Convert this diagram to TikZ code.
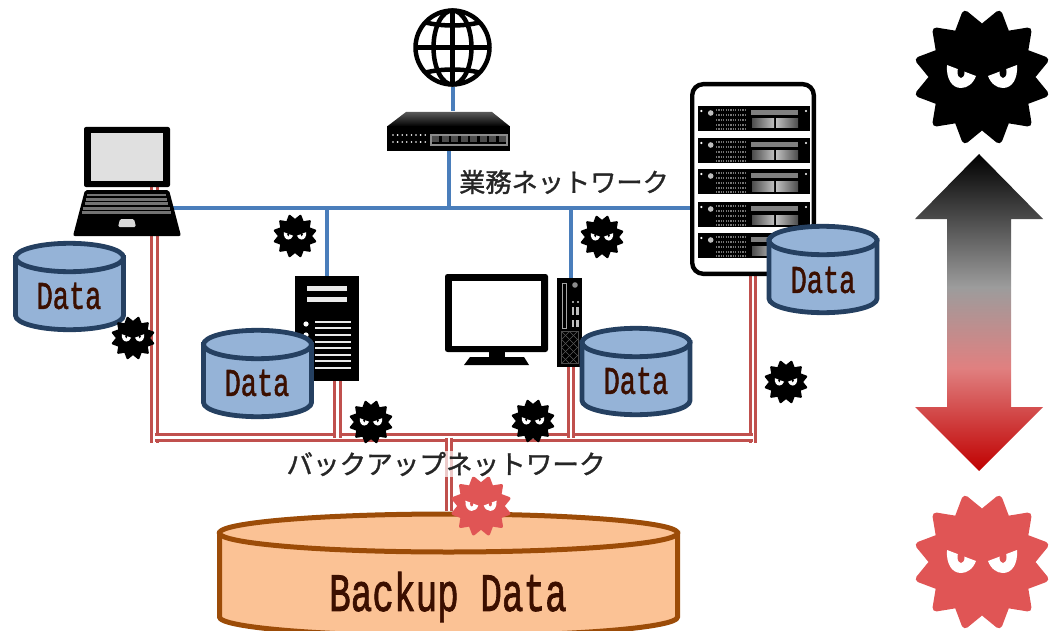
\documentclass[tikz,border=0pt]{standalone}
\usepackage{fontspec}
\usepackage{xcolor}
\usetikzlibrary{positioning, calc, arrows.meta}
\newfontfamily\jpfont[FakeBold=1.2]{Noto Sans CJK JP}
\newfontfamily\datafont[FakeBold=1.6]{Liberation Mono}
\definecolor{lanblue}{HTML}{4A7EBB}
\definecolor{bkred}{HTML}{C0504D}
\definecolor{cylblue}{HTML}{95B3D7}
\definecolor{cyledge}{HTML}{254061}
\definecolor{bkfill}{HTML}{FBC295}
\definecolor{bkedge}{HTML}{9C4C08}
\definecolor{datatext}{HTML}{3B0F00}
\definecolor{virusred}{HTML}{E05555}
\definecolor{bottomred}{HTML}{C00000}
\definecolor{midpink}{HTML}{E08080}
\definecolor{midgray}{HTML}{9C9C9C}
\pgfdeclareverticalshading{threatfade}{100bp}{
  color(0bp)=(bottomred);
  color(25bp)=(bottomred);
  color(41.25bp)=(midpink);
  color(54bp)=(midgray);
  color(75bp)=(black);
  color(100bp)=(black)}

\begin{document}
\begin{tikzpicture}
    [x=1pt,y=-1pt,
     lan/.style={draw=lanblue,line width=4pt},
     backup/.style={draw=bkred,line width=2.9pt,double=white,double distance=2.9pt},
     devbox/.style={inner sep=0,minimum width=#1},
     blue drum/.style={draw=cyledge,fill=cylblue,line width=4.8pt},
     orange drum/.style={draw=bkedge,fill=bkfill,line width=5pt},
     datalabel/.style={inner sep=0,text=datatext,font=\datafont\fontsize{27}{27}\selectfont},
     netlabel/.style={inner sep=1pt,text=black!85,font=\jpfont\fontsize{26.2}{26}\selectfont},
     pics/drum/.style n args={4}{code={
       \draw[#4] (-#1,0) -- (-#1,#3) arc (180:0:#1 and #2) -- (#1,0) -- cycle;
       \draw[#4] (0,0) ellipse (#1 and #2);}},
     pics/virus/.style n args={2}{code={
       \begin{scope}[scale=#2]
       \filldraw[#1,line join=round,line width=#2*7pt] (0:49) \foreach \a in {0,30,...,330}{ -- (\a+15:65) -- (\a+30:49)} -- cycle;
       \fill[white] (-35,-12) -- (-6,-1) .. controls (-9,7) and (-15,11) .. (-21,11) .. controls (-30,11) and (-36,2) .. (-35,-12) -- cycle;
       \fill[white] (35,-12) -- (6,-1) .. controls (9,7) and (15,11) .. (21,11) .. controls (30,11) and (36,2) .. (35,-12) -- cycle;
       \fill[#1] (-21,-5) ellipse (3.5 and 6);
       \fill[#1] (21,-5) ellipse (3.5 and 6);
       \end{scope}}},
     pics/rackunit/.style={code={
       \fill[black] (0,0) rectangle (112,25);
       \fill[white] (3.3,5) circle (1.2);
       \fill[white] (108,5) circle (1.2);
       \fill[black!25] (12.7,7) circle (2.8);
       \foreach \r in {4,9,14,19,23}
         \draw[black!55,line width=1.2pt,dash pattern=on 1.2pt off 1.2pt] (18,\r) -- (48,\r);
       \fill[black!50] (53,4) rectangle (100,9);
       \shade[left color=black!70,right color=black!25] (54,13) rectangle (76,22);
       \shade[left color=black!25,right color=black!70] (78,13) rectangle (100,22);}}]
    \useasboundingbox (0,0) rectangle (1051,631);

    % icon boxes
    \node (laptop) at (127,181.5) [devbox=108,minimum height=109] {};
    \node (globe) at (452.5,47.5) [devbox=78,minimum height=78] {};
    \node (switch) at (448.5,131) [devbox=123,minimum height=39] {};
    \node (tower) at (327,328.5) [devbox=64,minimum height=105] {};
    \node (desktop) at (569.5,322.5) [devbox=25,minimum height=89] {};
    \node (monitor) at (496.5,319.5) [devbox=103,minimum height=91] {};
    \node (rack) at (753,179) [devbox=126,minimum height=194] {};
    \node (backupdisk) at (448.5,571) [devbox=463,minimum height=119] {};
    \coordinate (busL) at (170,208);
    \coordinate (busT) at (switch.south |- busL);
    \coordinate (busA) at (327,208);
    \coordinate (busB) at (571,208);
    \coordinate (bkL) at (154.3,437.5);
    \coordinate (bkR) at (753,437.5);
    \coordinate (bkT) at (449,437.5);
    \coordinate (bkA) at (337.5,437.5);
    \coordinate (bkB) at (571,437.5);
    \coordinate (lapTop) at (154.3,187);

    \draw[lan] (busL) -- (rack.west |- busL);
    \draw[lan] (globe.south) -- (globe.south |- switch.north);
    \draw[lan] (switch.south) -- (busT);
    \draw[lan] (busA) -- (busA |- tower.north);
    \draw[lan] (busB) -- (busB |- desktop.north);

    \draw[backup] (lapTop) -- ([yshift=-5pt]bkL);
    \draw[backup] (rack.south -| bkR) -- ([yshift=-5pt]bkR);
    \draw[backup] ([xshift=1pt]bkL) -- (bkR);
    \draw[backup] (tower.south -| bkA) -- (bkA);
    \draw[backup] (desktop.south -| bkB) -- (bkB);
    \draw[backup] (bkT) -- (backupdisk.north -| bkT);

    % laptop
    \fill[black,rounded corners=2pt] (84,127) rectangle (170,187);
    \fill[black!12] (91,133) rectangle (163,181);
    \fill[black,rounded corners=2pt] (85,190) -- (169,190) -- (181,236) -- (73,236) -- cycle;
    \foreach \yy/\xa/\xb in {195/87/166,199.7/86/167,203.7/85/168,208.3/83/170,212.7/82/171}
      \draw[black!55,line width=2.6pt] (\xa,\yy) -- (\xb,\yy);
    \fill[black!15,rounded corners=1.5pt] (120,219) -- (134,219) -- (136,227) -- (118,227) -- cycle;

    % globe
    \begin{scope}[shift={(globe.center)}]
      \draw[line width=4.5pt] (0,0) circle (37);
      \draw[line width=4.5pt] (0,0) ellipse (19 and 37);
      \draw[line width=4.5pt] (0,-37) -- (0,37);
      \draw[line width=4.5pt] (-37,0) -- (37,0);
      \draw[line width=4.5pt] (-27,-25) .. controls (-10,-21) and (10,-21) .. (27,-25);
      \draw[line width=4.5pt] (-27,25) .. controls (-10,21) and (10,21) .. (27,25);
    \end{scope}

    % switch
    \shade[top color=black!65,bottom color=black] (406,112) -- (492,112) -- (510,126.5) -- (387,126.5) -- cycle;
    \fill[black] (387,126.5) rectangle (510,151);
    \foreach \xx in {0,1,...,7} {
      \fill[white] (393+4.6*\xx,135) circle (.9);
      \fill[white] (393+4.6*\xx,142) circle (.9);
      \fill[black!70] (431+9.5*\xx+1.2,136.5) rectangle (431+9.5*\xx+8.2,142.5);
    }
    \draw[black!45,line width=1.5pt] (431,135) rectangle (507,145);

    % tower
    \fill[black] (295,276) rectangle (359,381);
    \fill[black!8] (307,286) rectangle (347,291);
    \fill[black!8] (307,297) rectangle (347,301.5);
    \fill[white] (306,324) circle (2.6);
    \fill[white] (306,335) circle (2.6);
    \foreach \yy in {321.5,328,334.7,341.5,348,354.7,361,368}
      \draw[black!8,line width=2pt] (315,\yy) -- (351,\yy);

    % monitor
    \fill[black,rounded corners=2.5pt] (445,274) rectangle (548,352);
    \fill[white] (452,281) rectangle (541,346);
    \fill[black] (489,350) rectangle (505,358);
    \fill[black] (470,357) -- (524,357) -- (529,365) -- (464,365) -- cycle;

    % desktop
    \fill[black] (557,278) rectangle (582,367);
    \draw[black!35,line width=.8pt] (562.5,283) rectangle (566.5,328);
    \fill[black!45] (575,285) circle (2.8);
    \fill[black!40] (572,301) rectangle (574,303);
    \fill[black!40] (576.5,301) rectangle (578.5,303);
    \fill[black!25] (571.5,307) rectangle (574,315);
    \fill[black!25] (576,307) rectangle (578.5,315);
    \fill[black!25] (571.5,320) rectangle (574,327);
    \fill[black!25] (576,320) rectangle (578.5,327);
    \begin{scope}
      \clip (561,331) rectangle (578,363);
      \foreach \k in {-32,-24,...,32} {
        \draw[black!65,line width=.6pt] (561,331+\k) -- (578,348+\k);
        \draw[black!65,line width=.6pt] (578,331+\k) -- (561,348+\k);
      }
    \end{scope}
    \draw[black!70,line width=.8pt] (561,331) rectangle (578,363);

    % rack
    \draw[black,fill=white,line width=4.4pt,rounded corners=11pt] (692.2,84.2) rectangle (813.8,273.8);
    \foreach \yy in {106,138,169,202,233}
      \pic at (698,\yy) {rackunit};

    % disks
    \pic (diskA) at (69.5,257.5) {drum={54}{14.2}{58}{blue drum}};
    \pic (diskB) at (257.5,344.5) {drum={54}{14.2}{58}{blue drum}};
    \pic (diskC) at (636,342.5) {drum={54}{14.2}{58}{blue drum}};
    \pic (diskD) at (823,240.5) {drum={54}{14.2}{58}{blue drum}};
    \pic (diskE) at (448.5,533) {drum={229}{19}{84}{orange drum}};
    \node (dataA) at (69,296) [datalabel] {\scalebox{1}[1.45]{Data}};
    \node (dataB) at (257,383) [datalabel] {\scalebox{1}[1.45]{Data}};
    \node (dataC) at (636,381) [datalabel] {\scalebox{1}[1.45]{Data}};
    \node (dataD) at (823,280) [datalabel] {\scalebox{1}[1.45]{Data}};
    \node (backuptext) at (448,597) [datalabel,font=\datafont\fontsize{36}{36}\selectfont] {\scalebox{1}[1.5]{Backup Data}};

    % viruses
    \pic (virusA) at (295,236) {virus={black}{.32}};
    \pic (virusB) at (133,338) {virus={black}{.32}};
    \pic (virusC) at (602,237) {virus={black}{.32}};
    \pic (virusD) at (371,422) {virus={black}{.32}};
    \pic (virusE) at (533,421) {virus={black}{.32}};
    \pic (virusF) at (786,382) {virus={black}{.32}};
    \pic (virusG) at (481,506) {virus={virusred}{.445}};
    \pic (virusBig) at (982,77) {virus={black}{1}};
    \pic (virusBigRed) at (982,562) {virus={virusred}{1}};

    % labels
    \node (lanlabel) at (564,182) [netlabel] {業務ネットワーク};
    \node (bklabel) at (446,464) [netlabel,font=\jpfont\fontsize{26.6}{26}\selectfont,fill=white,fill opacity=.7,text opacity=1] {バックアップネットワーク};

    % threat arrow
    \path[shading=threatfade] (979,154) -- (1043,219) -- (1011,219) -- (1011,407) -- (1043,407) -- (979,471) -- (915,407) -- (947,407) -- (947,219) -- (915,219) -- cycle;
    \end{tikzpicture}
\end{document}
